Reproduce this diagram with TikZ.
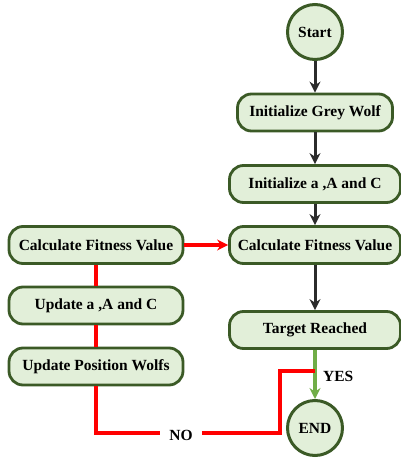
\documentclass[tikz,border=0pt]{standalone}
\usepackage{fontspec}
\setmainfont{Liberation Serif}
\usetikzlibrary{arrows.meta}
\definecolor{boxfill}{HTML}{E2EFD9}
\definecolor{boxdraw}{HTML}{3B5A26}
\definecolor{arrowgray}{HTML}{2B2B2B}
\definecolor{yesgreen}{HTML}{70AD47}
\begin{document}
\begin{tikzpicture}[x=1pt,y=-1pt,
  proc/.style={draw=boxdraw,fill=boxfill,line width=2.8pt,rounded corners=14pt,
    minimum height=37pt,inner sep=0pt,font=\fontsize{15.5}{18}\selectfont\bfseries},
  term/.style={circle,draw=boxdraw,fill=boxfill,line width=3pt,minimum size=55pt,
    inner sep=0pt,font=\fontsize{15.5}{18}\selectfont\bfseries},
  flow/.style={draw=arrowgray,line width=3pt,-{Stealth[length=11pt,width=11pt]}},
  redline/.style={draw=red,line width=3.2pt},
  lbl/.style={font=\fontsize{15.5}{18}\selectfont\bfseries,inner sep=1pt}]
\useasboundingbox (0,0) rectangle (401,458);
\node[term] (start) at (315,32) {Start};
\node[proc,minimum width=155pt] (initgw) at (315,112.5) {Initialize Grey Wolf};
\node[proc,minimum width=171pt] (initac) at (315,184) {Initialize a ,A and C};
\node[proc,minimum width=171pt] (calcr) at (315,245) {Calculate Fitness Value};
\node[proc,minimum width=171pt] (target) at (315,330) {Target Reached};
\node[term] (endn) at (315,428) {END};
\node[proc,minimum width=174pt] (calcl) at (96,245) {Calculate Fitness Value};
\node[proc,minimum width=174pt] (upd) at (96,305.5) {Update a ,A and C};
\node[proc,minimum width=174pt] (pos) at (96,366.5) {Update Position Wolfs};
\node[lbl,inner xsep=9pt] (no) at (181,435) {NO};
\node[lbl,anchor=west] (yes) at (322,376) {YES};
\coordinate (n1) at (96,433);
\coordinate (n2) at (280,433);
\coordinate (n3) at (280,371);
\coordinate (n4) at (315,371);
\draw[flow] (start) -- (initgw);
\draw[flow] (initgw) -- (initac);
\draw[flow] (initac) -- (calcr);
\draw[flow] (calcr) -- (target);
\draw[draw=yesgreen,line width=3.2pt,-{Stealth[length=11pt,width=11pt]}] (target) -- (endn);
\draw[redline,-{Stealth[length=11pt,width=11pt]}] (calcl) -- (calcr);
\draw[redline] (calcl) -- (upd);
\draw[redline] (upd) -- (pos);
\draw[redline] (pos) -- (n1) -- (no.west |- n1);
\draw[redline] (no.east |- n2) -- (n2) -- (n3) -- (n4);
\end{tikzpicture}
\end{document}
